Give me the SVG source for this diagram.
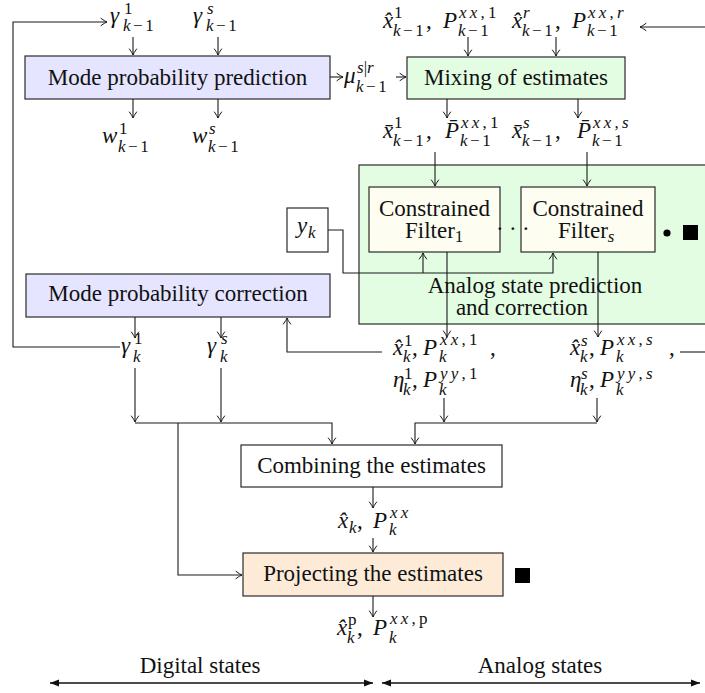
<svg xmlns="http://www.w3.org/2000/svg" width="705" height="693" viewBox="0 0 705 693">
<defs>
  <marker id="to" viewBox="-8 -5 10 10" refX="0" refY="0" markerWidth="10" markerHeight="10" orient="auto" markerUnits="userSpaceOnUse">
    <path d="M-6,-3.6 Q-2.2,-0.8 0,0 Q-2.2,0.8 -6,3.6" fill="none" stroke="#1a1a1a" stroke-width="1" stroke-linecap="round"/>
  </marker>
  <marker id="lx" viewBox="-10 -5 11 10" refX="0" refY="0" markerWidth="11" markerHeight="10" orient="auto-start-reverse" markerUnits="userSpaceOnUse">
    <path d="M0,0 L-9,-3.6 L-9,3.6 Z" fill="#111"/>
  </marker>
  <style>
    text{font-family:'Liberation Serif','DejaVu Serif',serif;font-size:23px;fill:#111}
    .mid{text-anchor:middle}
    .m{font-style:italic}
    .s{font-size:17px}
    .w{letter-spacing:2.5px}
    .w2{letter-spacing:3.2px}
    .node rect.b{stroke:#2a2a2a;stroke-width:1.2}
    .blue{fill:#e5e5ff}
    .green{fill:#e3fde3}
    .ivory{fill:#fdfdf1}
    .peach{fill:#fdebd8}
    .white{fill:#fff}
    .c{fill:none;stroke:#1a1a1a;stroke-width:1.1}
    .a{marker-end:url(#to)}
    .dbl{fill:none;stroke:#111;stroke-width:1.3;marker-start:url(#lx);marker-end:url(#lx)}
  </style>
</defs>
<rect width="705" height="693" fill="#fff"/>

<!-- analog filter bank -->
<g id="analog" class="node">
  <rect class="b green" x="359" y="165" width="360" height="159"/>
  <text class="mid" x="535" y="293">Analog state prediction</text>
  <text class="mid" x="522" y="315">and correction</text>
  <circle cx="667" cy="233" r="3.6" fill="#000"/>
  <rect x="683" y="225" width="15" height="15" fill="#000"/>
</g>
<g id="filter1" class="node">
  <rect class="b ivory" x="369" y="187" width="131" height="65"/>
  <text class="mid" x="434.5" y="216">Constrained</text>
  <text x="405" y="238">Filter<tspan class="s" dy="4">1</tspan></text>
</g>
<g id="filters" class="node">
  <rect class="b ivory" x="521" y="187" width="134" height="65"/>
  <text class="mid" x="588" y="216">Constrained</text>
  <text x="558" y="238">Filter<tspan class="s m" dy="4">s</tspan></text>
</g>
<text x="496" y="236" letter-spacing="5.3">···</text>
<g id="yk" class="node">
  <rect class="b white" x="287" y="208" width="41" height="44"/>
  <text><tspan class="m" x="297" y="233">y</tspan><tspan class="s m" x="308" y="238">k</tspan></text>
</g>

<g id="modepred" class="node">
  <rect class="b blue" x="25" y="56" width="305" height="43"/>
  <text class="mid" x="177.5" y="85">Mode probability prediction</text>
</g>
<g id="mixing" class="node">
  <rect class="b green" x="407" y="57" width="218" height="42"/>
  <text class="mid" x="516" y="85">Mixing of estimates</text>
</g>
<g id="modecorr" class="node">
  <rect class="b blue" x="26" y="274" width="304" height="43"/>
  <text class="mid" x="178" y="301">Mode probability correction</text>
</g>
<g id="combining" class="node">
  <rect class="b white" x="241" y="445" width="261" height="42"/>
  <text class="mid" x="371.5" y="473">Combining the estimates</text>
</g>
<g id="projecting" class="node">
  <rect class="b peach" x="243" y="553" width="260" height="43"/>
  <text class="mid" x="373" y="581">Projecting the estimates</text>
  <rect x="515" y="568" width="15" height="15" fill="#000"/>
</g>

<!-- connectors -->
<g id="connectors">
  <path class="c a" d="M120,347 H13 V22 H107"/>
  <path class="c a" d="M133,37 V55"/>
  <path class="c a" d="M218,37 V55"/>
  <path class="c a" d="M133,99 V118"/>
  <path class="c a" d="M218,99 V118"/>
  <path class="c a" d="M330,77 H343"/>
  <path class="c a" d="M396,77 H406"/>
  <path class="c a" d="M705,27 H640"/>
  <path class="c a" d="M468,37 V56"/>
  <path class="c a" d="M556,37 V56"/>
  <path class="c a" d="M447,99 V118"/>
  <path class="c a" d="M578,99 V118"/>
  <path class="c a" d="M435,152 V186"/>
  <path class="c a" d="M587,152 V186"/>
  <path class="c a" d="M328,230 H343 V273 H553 V253"/>
  <path class="c a" d="M423,273 V253"/>
  <path class="c a" d="M447,252 V337"/>
  <path class="c a" d="M598,252 V337"/>
  <path class="c a" d="M382,352 H287 V318"/>
  <path class="c" d="M680,352 H705"/>
  <path class="c a" d="M135,317 V338"/>
  <path class="c a" d="M221,317 V338"/>
  <path class="c a" d="M135,368 V422"/>
  <path class="c a" d="M221,368 V422"/>
  <path class="c a" d="M135,423 H332 V444"/>
  <path class="c a" d="M178,423 V575 H242"/>
  <path class="c a" d="M444,398 V422"/>
  <path class="c a" d="M597,398 V422"/>
  <path class="c a" d="M597,423 H415 V444"/>
  <path class="c a" d="M373,487 V508"/>
  <path class="c a" d="M373,538 V552"/>
  <path class="c a" d="M373,596 V617"/>
  <path class="dbl" d="M50,683 H373"/>
  <path class="dbl" d="M382,683 H700"/>
</g>

<!-- signal labels -->
<g id="labels">
  <text><tspan class="m" x="110" y="23">γ</tspan><tspan class="s" x="124" y="14">1</tspan><tspan class="s w" x="123" y="31"><tspan class="m">k</tspan>−1</tspan></text>
  <text><tspan class="m" x="193" y="23">γ</tspan><tspan class="s m" x="207" y="14">s</tspan><tspan class="s w" x="206" y="31"><tspan class="m">k</tspan>−1</tspan></text>
  <text><tspan class="m" x="102" y="143">w</tspan><tspan class="s" x="119" y="134">1</tspan><tspan class="s w" x="118" y="152"><tspan class="m">k</tspan>−1</tspan></text>
  <text><tspan class="m" x="192" y="143">w</tspan><tspan class="s m" x="209" y="134">s</tspan><tspan class="s w" x="208" y="152"><tspan class="m">k</tspan>−1</tspan></text>
  <text><tspan class="m" x="344" y="83">μ</tspan><tspan class="s" x="357" y="73"><tspan class="m">s</tspan>|<tspan class="m">r</tspan></tspan><tspan class="s w" x="356" y="92"><tspan class="m">k</tspan>−1</tspan></text>

  <text><tspan class="m" x="383" y="28">x̂</tspan><tspan class="s" x="394" y="18">1</tspan><tspan class="s w" x="393" y="36"><tspan class="m">k</tspan>−1</tspan><tspan x="426" y="28">,</tspan><tspan class="m" x="443" y="28">P</tspan><tspan class="s w2" x="459" y="18"><tspan class="m">xx</tspan>,1</tspan><tspan class="s w" x="458" y="36"><tspan class="m">k</tspan>−1</tspan></text>
  <text><tspan class="m" x="512" y="28">x̂</tspan><tspan class="s m" x="523" y="18">r</tspan><tspan class="s w" x="522" y="36"><tspan class="m">k</tspan>−1</tspan><tspan x="555" y="28">,</tspan><tspan class="m" x="572" y="28">P</tspan><tspan class="s w2" x="588" y="18"><tspan class="m">xx</tspan>,<tspan class="m">r</tspan></tspan><tspan class="s w" x="587" y="36"><tspan class="m">k</tspan>−1</tspan></text>

  <text><tspan class="m" x="383" y="138">x̄</tspan><tspan class="s" x="394" y="128">1</tspan><tspan class="s w" x="393" y="146"><tspan class="m">k</tspan>−1</tspan><tspan x="426" y="138">,</tspan><tspan class="m" x="445" y="138">P̄</tspan><tspan class="s w2" x="461" y="128"><tspan class="m">xx</tspan>,1</tspan><tspan class="s w" x="460" y="146"><tspan class="m">k</tspan>−1</tspan></text>
  <text><tspan class="m" x="512" y="138">x̄</tspan><tspan class="s m" x="523" y="128">s</tspan><tspan class="s w" x="522" y="146"><tspan class="m">k</tspan>−1</tspan><tspan x="555" y="138">,</tspan><tspan class="m" x="577" y="138">P̄</tspan><tspan class="s w2" x="593" y="128"><tspan class="m">xx</tspan>,<tspan class="m">s</tspan></tspan><tspan class="s w" x="592" y="146"><tspan class="m">k</tspan>−1</tspan></text>

  <text><tspan class="m" x="393" y="355">x̂</tspan><tspan class="s" x="404" y="346">1</tspan><tspan class="s m" x="403" y="362">k</tspan><tspan x="412" y="355">,</tspan><tspan class="m" x="423" y="355">P</tspan><tspan class="s w2" x="440" y="345"><tspan class="m">xx</tspan>,1</tspan><tspan class="s m" x="439" y="362">k</tspan><tspan x="490" y="355">,</tspan></text>
  <text><tspan class="m" x="393" y="387">η</tspan><tspan class="s" x="404" y="379">1</tspan><tspan class="s m" x="403" y="395">k</tspan><tspan x="412" y="387">,</tspan><tspan class="m" x="423" y="387">P</tspan><tspan class="s w2" x="440" y="379"><tspan class="m">yy</tspan>,1</tspan><tspan class="s m" x="439" y="395">k</tspan></text>
  <text><tspan class="m" x="570" y="355">x̂</tspan><tspan class="s m" x="581" y="346">s</tspan><tspan class="s m" x="580" y="362">k</tspan><tspan x="589" y="355">,</tspan><tspan class="m" x="600" y="355">P</tspan><tspan class="s w2" x="617" y="345"><tspan class="m">xx</tspan>,<tspan class="m">s</tspan></tspan><tspan class="s m" x="616" y="362">k</tspan><tspan x="669" y="355">,</tspan></text>
  <text><tspan class="m" x="570" y="387">η</tspan><tspan class="s m" x="581" y="379">s</tspan><tspan class="s m" x="580" y="395">k</tspan><tspan x="589" y="387">,</tspan><tspan class="m" x="600" y="387">P</tspan><tspan class="s w2" x="617" y="379"><tspan class="m">yy</tspan>,<tspan class="m">s</tspan></tspan><tspan class="s m" x="616" y="395">k</tspan></text>

  <text><tspan class="m" x="121" y="353">γ</tspan><tspan class="s" x="134" y="344">1</tspan><tspan class="s m" x="133" y="362">k</tspan></text>
  <text><tspan class="m" x="207" y="353">γ</tspan><tspan class="s m" x="221" y="344">s</tspan><tspan class="s m" x="220" y="362">k</tspan></text>

  <text><tspan class="m" x="338" y="528">x̂</tspan><tspan class="s m" x="349" y="533">k</tspan><tspan x="357" y="528">,</tspan><tspan class="m" x="373" y="528">P</tspan><tspan class="s m w2" x="390" y="518">xx</tspan><tspan class="s m" x="389" y="535">k</tspan></text>
  <text><tspan class="m" x="337" y="635">x̂</tspan><tspan class="s" x="348" y="625">p</tspan><tspan class="s m" x="347" y="643">k</tspan><tspan x="357" y="635">,</tspan><tspan class="m" x="373" y="635">P</tspan><tspan class="s w2" x="390" y="624"><tspan class="m">xx</tspan>,p</tspan><tspan class="s m" x="389" y="643">k</tspan></text>

  <text class="mid" x="200" y="673">Digital states</text>
  <text class="mid" x="540" y="673">Analog states</text>
</g>
</svg>
